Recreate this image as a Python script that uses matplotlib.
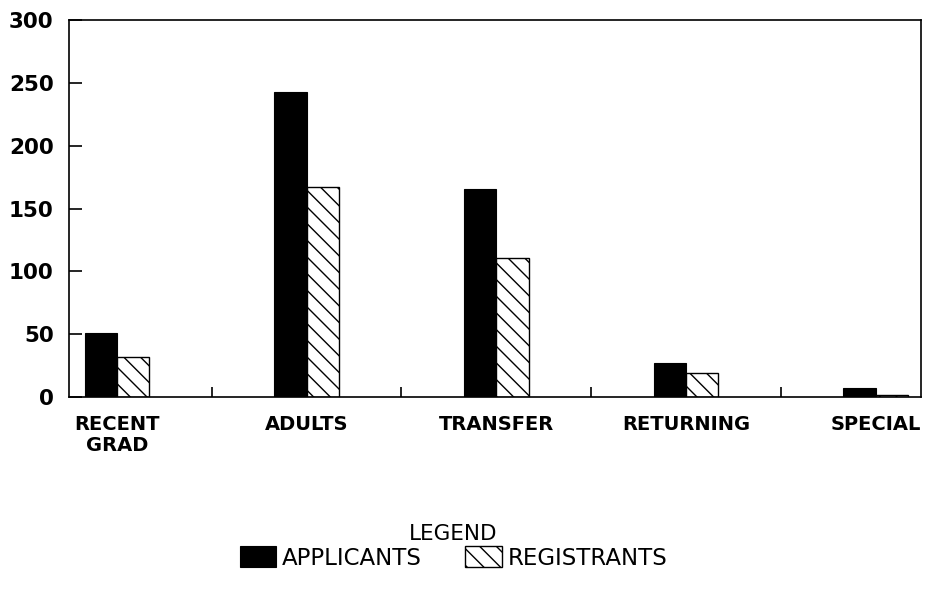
import matplotlib
matplotlib.use("Agg")
import matplotlib.pyplot as plt
import numpy as np

# Data
categories = ["RECENT\nGRAD", "ADULTS", "TRANSFER", "RETURNING", "SPECIAL"]
applicants = [51, 243, 166, 27, 7]
registrants = [32, 167, 111, 19, 2]
y_ticks = [0, 50, 100, 150, 200, 250, 300]

plt.rcParams["font.family"] = "DejaVu Sans"
plt.rcParams["hatch.linewidth"] = 1.0

fig = plt.figure(figsize=(9.37, 5.91), dpi=100)
ax = fig.add_axes([0.0736, 0.328, 0.909, 0.638])

x = np.arange(len(categories))
w = 0.17

bars_a = ax.bar(x - w, applicants, width=w, align="edge", color="black",
                edgecolor="black", linewidth=0.8, label="APPLICANTS")
bars_r = ax.bar(x, registrants, width=w, align="edge", color="white",
                edgecolor="black", linewidth=1.0, hatch="\\\\", label="REGISTRANTS")

ax.set_xlim(-0.253, 4.237)
ax.set_ylim(0, 300)

# y axis
ax.set_yticks(y_ticks)
ax.tick_params(axis="y", direction="in", length=9, width=1.2, pad=11,
               labelsize=15.5, right=False)
for lbl in ax.get_yticklabels():
    lbl.set_fontweight("bold")

# x axis: labels under groups, small inward ticks between groups
ax.set_xticks(x)
ax.set_xticklabels(categories, fontsize=14, fontweight="bold", linespacing=1.1)
ax.tick_params(axis="x", which="major", length=0, pad=13)
ax.set_xticks(x[:-1] + 0.5, minor=True)
ax.tick_params(axis="x", which="minor", direction="in", length=7, width=1.2)

for s in ax.spines.values():
    s.set_linewidth(1.2)

# Legend below the chart
leg = fig.legend(handles=[bars_a, bars_r], loc="upper center",
                 bbox_to_anchor=(0.484, 0.148),
                 ncol=2, frameon=False, title="LEGEND", fontsize=16.5,
                 title_fontsize=15.5, handlelength=1.6, handleheight=1.0,
                 handletextpad=0.25, columnspacing=1.9, labelspacing=0.1)

fig.savefig("out.png", dpi=100)
plt.close(fig)
